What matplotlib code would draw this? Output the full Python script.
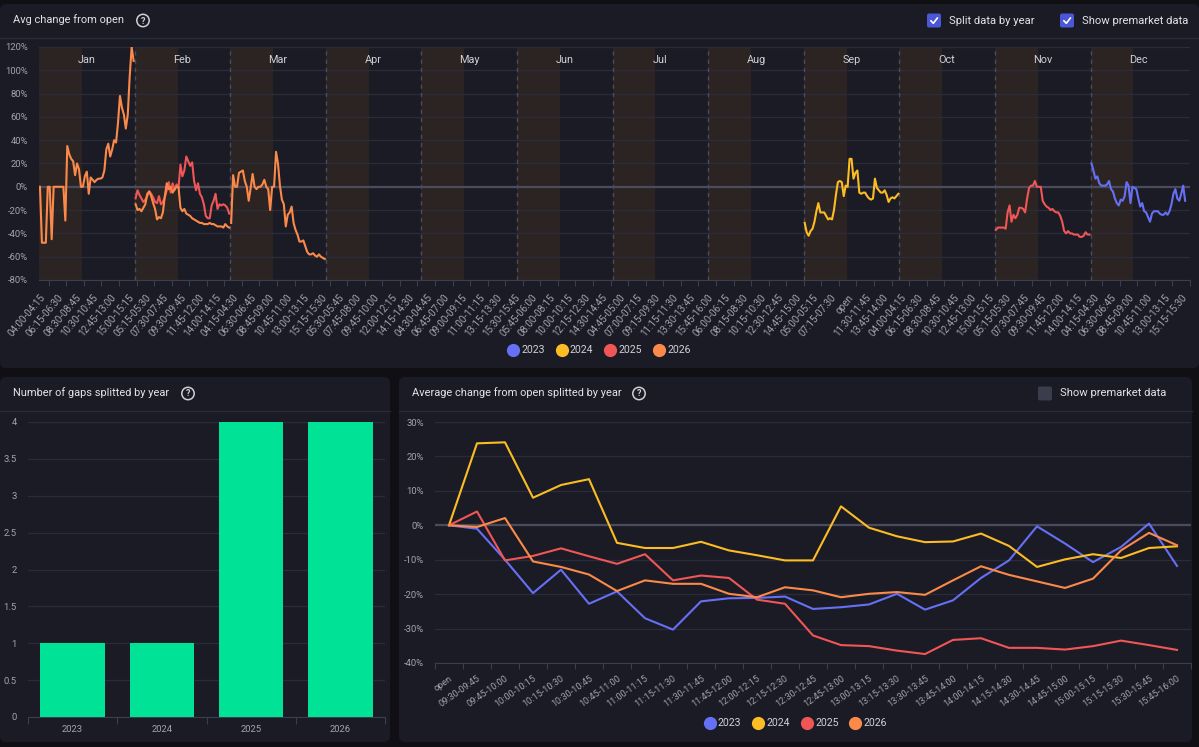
import matplotlib
matplotlib.use("Agg")
import matplotlib.pyplot as plt
import numpy as np
from matplotlib.patches import FancyBboxPatch, Circle

plt.rcParams["font.family"] = ["Roboto", "DejaVu Sans"]

W, H = 1199, 747

months = ["Jan", "Feb", "Mar", "Apr", "May", "Jun",
          "Jul", "Aug", "Sep", "Oct", "Nov", "Dec"]
years = ["2023", "2024", "2025", "2026"]
year_colors = ["#6570f5", "#fbbd23", "#f05656", "#fb8a4a"]


def make_bins(h0, m0, h1, m1):
    out = []
    t = h0 * 60 + m0
    while t < h1 * 60 + m1:
        a, b = t, t + 15
        out.append(f"{a // 60:02d}:{a % 60:02d}-{b // 60:02d}:{b % 60:02d}")
        t += 15
    return out


# one month of slots: premarket bins, "open", regular session bins
day_slots = make_bins(4, 0, 9, 30) + ["open"] + make_bins(9, 30, 16, 0)
session_slots = ["open"] + make_bins(9, 30, 16, 0)

# avg change from open per month (one series per month/year)
jan_2026 = [0, -48, -48, -48, 0, 0, -45, 0, 0, 0, 0, 0, 0, -29, 35, 28, 24, 22, 10,
            20, 15, 0, 0, 9, 13, -6, 8, 6, 4, 6, 7, 7, 8, 14, 32, 37, 26, 32, 40,
            38, 55, 78, 68, 62, 50, 62, 95, 120, 108]
feb_2025 = [-10, -3, -7, -10, -13, -11, -8, -4, -6, -9, -13, -14, -8, -15, -13, -9,
            -3, 4, -5, 3, -3, 2, -1, 19, 9, 14, 26, 22, 18, 21, 5, -3, 3, -6, -9,
            -15, -25, -27, -27, -16, -12, -6, -19, -15, -16, -15, -16, -18, -23]
feb_2026 = [-15, -20, -19, -21, -18, -15, -6, -4, -8, -14, -19, -28, -26, -27, -22,
            -8, 3, -2, 0, -5, -2, 0, 0, -18, -21, -19, -23, -24, -25, -27, -28, -29,
            -30, -31, -31, -32, -32, -32, -31, -32, -32, -33, -34, -34, -34, -35,
            -32, -34, -35]
mar_2026 = [-31, 10, 0, 0, 12, 13, 14, 5, 0, -12, -1, 11, 0, -2, 0, 0, 2, 6, 0, -2,
            -20, 0, 0, 30, 20, 1, -11, -15, -34, -24, -22, -17, -31, -37, -41, -47,
            -47, -46, -51, -56, -58, -58, -57, -59, -60, -58, -60, -61, -62]
sep_2024 = [-31, -39, -42, -38, -36, -30, -21, -14, -22, -22, -22, -25, -28, -27,
            -28, -20, -7, 4, 5, 4, -8, 1, 0, 24, 24, 7, 12, 14, -5, -6, -5, -5, -8,
            -10, -11, -10, 7, -1, -3, -5, -5, -3, -7, -13, -10, -9, -10, -8, -6]
nov_2025 = [-37, -35, -35, -35, -35, -36, -22, -16, -30, -24, -27, -24, -18, -18,
            -19, -22, -10, -1, 1, 1, 5, 0, 0, 0, -12, -15, -17, -18, -20, -19, -21,
            -22, -22, -25, -30, -38, -40, -38, -40, -40, -41, -41, -41, -43, -43,
            -42, -39, -41, -41]
dec_2023 = [20, 14, 7, 9, 3, 1, 1, 1, 2, 5, -2, -4, -10, -14, -16, -11, -12, -8, 4,
            1, -14, 0, -1, -2, -10, -17, -14, -21, -22, -26, -30, -23, -21, -21, -21,
            -23, -24, -24, -22, -24, -21, -15, -6, -2, -10, -12, -6, 1, -12]

monthly_series = [
    ("Jan", "2026", jan_2026),
    ("Feb", "2025", feb_2025),
    ("Feb", "2026", feb_2026),
    ("Mar", "2026", mar_2026),
    ("Sep", "2024", sep_2024),
    ("Nov", "2025", nov_2025),
    ("Dec", "2023", dec_2023),
]

# number of gaps per year
gap_counts = [1, 1, 4, 4]

# average change from open (regular session) per year
avg_2023 = [0, -1.0, -10.0, -19.7, -12.9, -22.8, -19.2, -27.0, -30.3, -22.1, -21.2,
            -21.1, -20.7, -24.3, -23.8, -23.0, -19.9, -24.5, -21.8, -15.3, -10.2,
            -0.3, -5.3, -10.7, -6.3, 0.5, -11.8]
avg_2024 = [0, 23.8, 24.1, 8.0, 11.7, 13.4, -5.1, -6.6, -6.6, -4.8, -7.3, -8.7,
            -10.2, -10.2, 5.5, -0.7, -3.2, -4.9, -4.7, -2.4, -6.0, -12.1, -9.9,
            -8.4, -9.5, -6.6, -6.1]
avg_2025 = [0, 4.0, -10.2, -8.9, -6.7, -9.0, -11.2, -8.4, -16.0, -14.6, -15.3,
            -21.6, -22.8, -32.0, -34.8, -35.1, -36.4, -37.4, -33.3, -32.8, -35.6,
            -35.6, -36.1, -35.1, -33.5, -34.8, -36.2]
avg_2026 = [0, -0.5, 2.1, -10.5, -12.1, -14.3, -19.1, -16.0, -17.0, -17.0, -19.9,
            -20.9, -18.0, -18.9, -20.9, -19.9, -19.4, -20.2, -16.0, -11.9, -14.4,
            -16.3, -18.2, -15.5, -7.3, -2.2, -5.8]
avg_by_year = [avg_2023, avg_2024, avg_2025, avg_2026]

# ---- style
page_bg = "#0f0f14"
panel_bg = "#1b1b25"
line_col = "#2a2a38"
grid_col = "#2b2c3b"
zero_col = "#4a4b5c"
shade_col = "#2c2422"
title_col = "#e2e2e8"
tick_col = "#a3a3ad"
green = "#00e396"

fig = plt.figure(figsize=(W / 100, H / 100), dpi=100, facecolor=page_bg)

bg = fig.add_axes([0, 0, 1, 1])
bg.set_xlim(0, W)
bg.set_ylim(H, 0)
bg.axis("off")


def panel(x0, y0, x1, y1):
    bg.add_patch(FancyBboxPatch((x0, y0), x1 - x0, y1 - y0,
                                boxstyle="round,pad=0,rounding_size=6",
                                fc=panel_bg, ec="none"))


def help_icon(x, y):
    bg.add_patch(Circle((x, y), 6.2, fill=False, ec="#cfcfd6", lw=1.1))
    bg.text(x, y + 0.5, "?", ha="center", va="center", fontsize=6.5,
            color="#cfcfd6", fontweight="bold")


def checkbox(x, y, label, checked):
    fc = "#4b57d6" if checked else "#3b3c4c"
    bg.add_patch(FancyBboxPatch((x, y - 7), 14, 14,
                                boxstyle="round,pad=0,rounding_size=2",
                                fc=fc, ec="none"))
    if checked:
        bg.plot([x + 3.8, x + 6.3, x + 10.5], [y + 0.2, y + 2.8, y - 2.6],
                color="white", lw=1.2, solid_capstyle="round")
    bg.text(x + 22, y, label, ha="left", va="center", fontsize=8.1,
            color=title_col)


def legend_row(x_first, y):
    for k, (yr, col) in enumerate(zip(years, year_colors)):
        cx = x_first + k * 48.5
        bg.plot([cx], [y], "o", ms=9.5, color=col, mec="none")
        bg.text(cx + 8.5, y + 0.5, yr, ha="left", va="center", fontsize=7.6,
                color="#d0d0d8")


def px_axes(left, top, right, bottom):
    a = fig.add_axes([left / W, 1 - bottom / H, (right - left) / W,
                      (bottom - top) / H])
    a.set_facecolor("none")
    for s in a.spines.values():
        s.set_visible(False)
    return a


# panels and headers
panel(0, 4, W, 368)
panel(0, 377, 390, 742)
panel(399, 377, 1192, 742)
bg.plot([0, W], [37.5, 37.5], color=line_col, lw=1)
bg.plot([0, 390], [410.5, 410.5], color=line_col, lw=1)
bg.plot([399, 1192], [410.5, 410.5], color=line_col, lw=1)

bg.text(13, 20, "Avg change from open", va="center", fontsize=7.9, color=title_col)
help_icon(143, 20.5)
checkbox(927, 20.5, "Split data by year", True)
checkbox(1060, 20.5, "Show premarket data", True)

bg.text(13, 393, "Number of gaps splitted by year", va="center", fontsize=7.9,
        color=title_col)
help_icon(188, 393.5)

bg.text(412, 393, "Average change from open splitted by year", va="center",
        fontsize=7.9, color=title_col)
help_icon(639, 393.5)
checkbox(1038, 393.5, "Show premarket data", False)

legend_row(513, 349.5)
legend_row(709.5, 722.5)

# ---- top chart: avg change from open by month
ax1 = px_axes(39, 47, 1190, 280)
n_slots = len(day_slots)
all_slots = day_slots * len(months)
n_pre = day_slots.index("open")
ax1.set_xlim(-0.5, n_slots * len(months) - 0.5)
ax1.set_ylim(-80, 120)
for m, name in enumerate(months):
    base = m * n_slots
    ax1.axvspan(base - 0.5, base + n_pre - 0.5, color=shade_col, lw=0, zorder=0)
    if m > 0:
        ax1.axvline(base - 0.5, color="#4a4b5c", lw=1, ls=(0, (3, 3)), zorder=1)
    ax1.text(base + n_slots / 2 - 0.5, 109, name, ha="center", va="center",
             fontsize=7.8, color="#cfcfd6")
ax1.set_yticks(range(-80, 121, 20))
ax1.set_yticklabels([f"{v}%" for v in range(-80, 121, 20)])
ax1.grid(axis="y", color=grid_col, lw=0.9, zorder=0.5)
ax1.set_axisbelow(True)
ax1.axhline(0, color=zero_col, lw=1.6, zorder=1.5)
for name, yr, vals in monthly_series:
    base = months.index(name) * n_slots
    ax1.plot(base + np.arange(len(vals)), vals, color=year_colors[years.index(yr)],
             lw=1.5, zorder=3)
label_idx = np.arange(0, len(all_slots), 9)
ax1.set_xticks(label_idx + 4.5)
ax1.set_xticklabels([])
ax1.set_xticks(label_idx, minor=True)
ax1.set_xticklabels([all_slots[i] for i in label_idx], minor=True, rotation=50,
                    ha="right", va="top", rotation_mode="anchor")
ax1.tick_params(axis="x", which="major", length=4, color="#3c3d4d")
ax1.tick_params(axis="x", which="minor", length=0, pad=9, labelsize=7.1,
                labelcolor=tick_col)
ax1.tick_params(axis="y", length=0, pad=8, labelsize=6.8, labelcolor=tick_col)
ax1.spines["bottom"].set_visible(True)
ax1.spines["bottom"].set_color("#3c3d4d")

# ---- bottom left: number of gaps
ax2 = px_axes(28, 422, 385, 717)
ax2.bar(np.arange(len(years)), gap_counts, width=0.72, color=green, zorder=3)
ax2.set_xlim(-0.5, len(years) - 0.5)
ax2.set_ylim(0, 4)
yt = np.arange(0, 4.01, 0.5)
ax2.set_yticks(yt)
ax2.set_yticklabels([f"{v:g}" for v in yt])
ax2.grid(axis="y", color=grid_col, lw=0.9)
ax2.set_axisbelow(True)
ax2.set_xticks(np.arange(-0.5, len(years), 1))
ax2.set_xticklabels([])
ax2.set_xticks(np.arange(len(years)), minor=True)
ax2.set_xticklabels(years, minor=True)
ax2.tick_params(axis="x", which="major", length=5, color="#3c3d4d")
ax2.tick_params(axis="x", which="minor", length=0, pad=6, labelsize=6.8,
                labelcolor=tick_col)
ax2.tick_params(axis="y", length=0, pad=8, labelsize=6.8, labelcolor=tick_col)
ax2.spines["bottom"].set_visible(True)
ax2.spines["bottom"].set_color("#3c3d4d")

# ---- bottom right: avg change from open by year
ax3 = px_axes(435, 422, 1191, 663)
xs = np.arange(len(session_slots))
ax3.set_xlim(-0.5, len(session_slots) - 0.5)
ax3.set_ylim(-40, 30)
ax3.set_yticks(range(-40, 31, 10))
ax3.set_yticklabels([f"{v}%" for v in range(-40, 31, 10)])
ax3.grid(axis="y", color=grid_col, lw=0.9)
ax3.set_axisbelow(True)
ax3.axhline(0, color=zero_col, lw=1.6, zorder=1.5)
for vals, col in zip(avg_by_year, year_colors):
    ax3.plot(xs, vals, color=col, lw=1.5, zorder=3)
ax3.set_xticks(np.arange(-0.5, len(session_slots), 1))
ax3.set_xticklabels([])
ax3.set_xticks(xs, minor=True)
ax3.set_xticklabels(session_slots, minor=True, rotation=35, ha="right", va="top",
                    rotation_mode="anchor")
ax3.tick_params(axis="x", which="major", length=4, color="#3c3d4d")
ax3.tick_params(axis="x", which="minor", length=0, pad=8, labelsize=6.6,
                labelcolor=tick_col)
ax3.tick_params(axis="y", length=0, pad=8, labelsize=6.8, labelcolor=tick_col)
ax3.spines["bottom"].set_visible(True)
ax3.spines["bottom"].set_color("#3c3d4d")

fig.savefig("out.png", dpi=100, facecolor=page_bg)
